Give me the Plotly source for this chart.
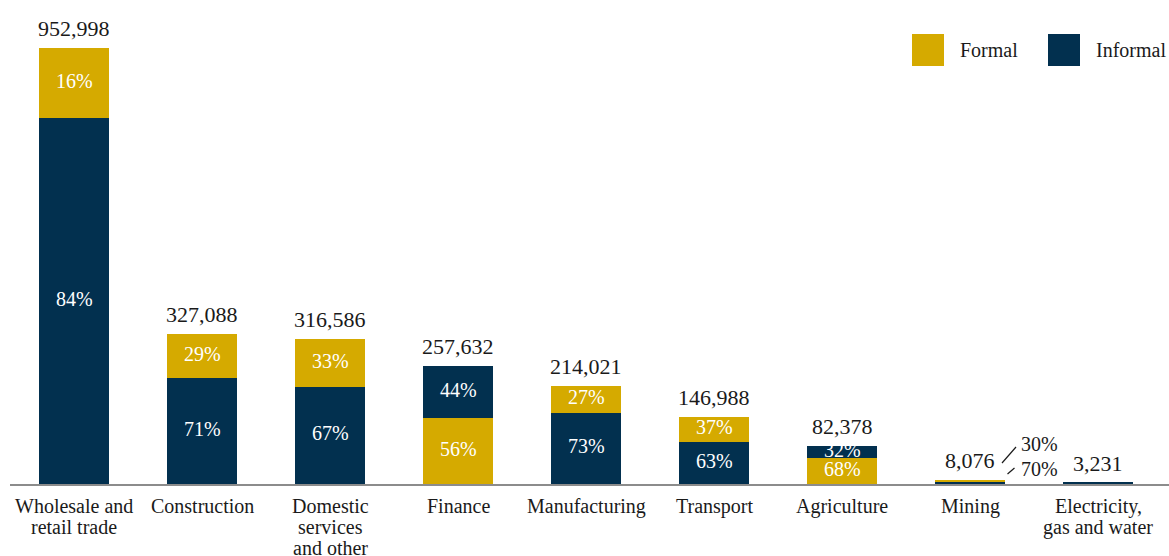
import plotly.graph_objects as go

# Employment by sector, split into formal and informal shares
categories = [
    "Wholesale and<br>retail trade",
    "Construction",
    "Domestic<br>services<br>and other",
    "Finance",
    "Manufacturing",
    "Transport",
    "Agriculture",
    "Mining",
    "Electricity,<br>gas and water",
]
totals = [952998, 327088, 316586, 257632, 214021, 146988, 82378, 8076, 3231]
formal_pct = [16, 29, 33, 56, 27, 37, 68, 30, 0]
informal_pct = [84, 71, 67, 44, 73, 63, 32, 70, 100]
# how the share labels are shown for each sector
share_labels = ["inside"] * 7 + ["outside", "none"]

GOLD = "#D5AA00"
NAVY = "#02304F"
FONT = "'Liberation Serif', 'Times New Roman', 'DejaVu Serif', serif"
INK = "#1a1a1a"

x = list(range(len(categories)))

# larger share sits at the bottom of each stack
bottom_vals, top_vals, bottom_cols, top_cols = [], [], [], []
bottom_pct, top_pct = [], []
for tot, f, inf in zip(totals, formal_pct, informal_pct):
    if inf >= f:
        bottom_vals.append(tot * inf / 100); bottom_cols.append(NAVY); bottom_pct.append(inf)
        top_vals.append(tot * f / 100); top_cols.append(GOLD); top_pct.append(f)
    else:
        bottom_vals.append(tot * f / 100); bottom_cols.append(GOLD); bottom_pct.append(f)
        top_vals.append(tot * inf / 100); top_cols.append(NAVY); top_pct.append(inf)

fig = go.Figure()
fig.add_bar(x=x, y=bottom_vals, marker=dict(color=bottom_cols, line=dict(width=0)),
            width=0.54, showlegend=False, hoverinfo="skip")
fig.add_bar(x=x, y=top_vals, marker=dict(color=top_cols, line=dict(width=0)),
            width=0.54, showlegend=False, hoverinfo="skip")

annotations = []
shapes = []

# totals above each bar
for i, tot in enumerate(totals):
    annotations.append(dict(x=i, y=tot, xref="x", yref="y", text=f"{tot:,}",
                            showarrow=False, yanchor="bottom", yshift=5,
                            font=dict(family=FONT, size=22, color=INK)))

# share labels
for i, style in enumerate(share_labels):
    b, t = bottom_vals[i], top_vals[i]
    if style == "inside":
        annotations.append(dict(x=i, y=b / 2, xref="x", yref="y", text=f"{bottom_pct[i]}%",
                                showarrow=False, yanchor="middle", yshift=2,
                                font=dict(family=FONT, size=20, color="white")))
        annotations.append(dict(x=i, y=b + t / 2, xref="x", yref="y", text=f"{top_pct[i]}%",
                                showarrow=False, yanchor="middle", yshift=2,
                                font=dict(family=FONT, size=20, color="white")))
    elif style == "outside":
        for pct, dy in ((top_pct[i], 40), (bottom_pct[i], 15)):
            annotations.append(dict(x=i, y=0, xref="x", yref="y", text=f"{pct}%",
                                    showarrow=False, xanchor="left", xshift=49,
                                    yanchor="middle", yshift=dy,
                                    font=dict(family=FONT, size=20, color=INK)))
        for (x0, x1, y0, y1) in ((32, 46, 21, 37), (37.5, 44.5, 10, 16)):
            shapes.append(dict(type="line", xref="x", yref="y",
                               xsizemode="pixel", ysizemode="pixel",
                               xanchor=i, yanchor=0, x0=x0, x1=x1, y0=y0, y1=y1,
                               line=dict(color=INK, width=1.2)))

# category names under the axis, one line at a time
for i, name in enumerate(categories):
    for k, line in enumerate(name.split("<br>")):
        annotations.append(dict(x=i, y=0, xref="x", yref="y", text=line,
                                showarrow=False, yanchor="middle",
                                yshift=-(22 + 21 * k),
                                font=dict(family=FONT, size=20, color=INK)))

# legend
W, H, L = 1159, 484, 10
def px(v):
    return (v - L) / W
def py(v):
    return (H - v) / H
for sx, col, label in ((912, GOLD, "Formal"), (1048, NAVY, "Informal")):
    shapes.append(dict(type="rect", xref="paper", yref="paper",
                       x0=px(sx), x1=px(sx + 32), y0=py(66), y1=py(34),
                       fillcolor=col, line=dict(width=0)))
    annotations.append(dict(x=px(sx + 46), y=py(50), xref="paper", yref="paper",
                            text=label, showarrow=False, xanchor="left", yanchor="middle",
                            font=dict(family=FONT, size=20, color=INK)))

fig.update_layout(
    width=1169, height=556,
    margin=dict(l=10, r=0, t=0, b=72),
    barmode="stack",
    font=dict(family=FONT, color=INK),
    plot_bgcolor="white", paper_bgcolor="white",
    xaxis=dict(range=[-0.5, 8.5547], showgrid=False, zeroline=False,
               showticklabels=False, ticks="", showline=True,
               linecolor="#8c8c8c", linewidth=1.5, fixedrange=True),
    yaxis=dict(range=[0, 1058000], visible=False, fixedrange=True),
    annotations=annotations,
    shapes=shapes,
)

fig.write_html("out.html")
